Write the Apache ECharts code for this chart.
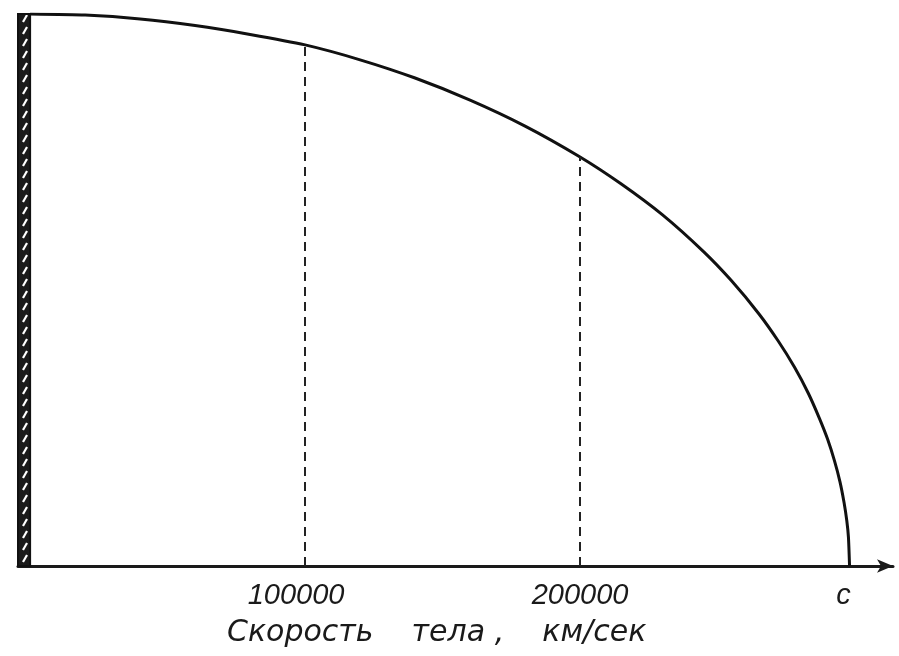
<!DOCTYPE html>
<html>
<head>
<meta charset="utf-8">
<script src="https://cdn.jsdelivr.net/npm/echarts@6/dist/echarts.min.js"></script>
<style>
html,body{margin:0;padding:0;background:#fff;}
#chart{width:899px;height:656px;}
</style>
</head>
<body>
<div id="chart"></div>
<script>
// Velocity of the body, km/s
const velocity = [0, 20000, 40000, 60000, 80000, 100000, 120000, 140000, 160000, 180000, 200000, 215000, 230000, 245000, 255000, 265000, 272000, 278000, 283000, 287000, 290000, 292500, 294500, 296000, 297000, 297600, 298000];
// Relative length of the body (1 = rest length)
const lengthRatio = [1.0, 0.998, 0.991, 0.979, 0.963, 0.944, 0.917, 0.884, 0.844, 0.797, 0.741, 0.692, 0.636, 0.569, 0.517, 0.457, 0.408, 0.360, 0.313, 0.268, 0.230, 0.191, 0.153, 0.115, 0.082, 0.052, 0];
// Dashed reference velocities
const dashedAt = [100000, 200000];
// Tick positions and labels on the velocity axis
const tickValues = [100000, 200000, 298000];
const tickLabels = ['100000', '200000', 'c'];
// Rest-length bar at the left
const restBar = [-4400, 0];

const chart = echarts.init(document.getElementById('chart'), null, {renderer: 'canvas'});

const pc = document.createElement('canvas');
pc.width = 10; pc.height = 12;
const g = pc.getContext('2d');
g.fillStyle = '#1a1a1a';
g.fillRect(0, 0, 10, 12);
g.strokeStyle = '#ffffff';
g.lineWidth = 2.2;
g.beginPath();
g.moveTo(3, 10); g.lineTo(7, 3);
g.stroke();

const lineData = velocity.map((v, i) => [v, lengthRatio[i]]);
const dashLines = dashedAt.map(v => {
  const i = velocity.indexOf(v);
  return [{coord: [v, 0]}, {coord: [v, lengthRatio[i]]}];
});

chart.setOption({
  animation: false,
  backgroundColor: '#ffffff',
  title: {
    text: 'Скорость    тела ,    км/сек',
    left: 222,
    top: 613,
    textStyle: {
      fontFamily: 'DejaVu Sans',
      fontStyle: 'italic',
      fontWeight: 'normal',
      fontSize: 30,
      color: '#1a1a1a'
    }
  },
  grid: {left: 18, top: 14, width: 875, height: 552},
  xAxis: {
    type: 'value',
    min: -4400,
    max: 313800,
    axisLine: {
      show: true,
      symbol: ['none', 'arrow'],
      symbolSize: [10, 16],
      lineStyle: {color: '#1a1a1a', width: 3}
    },
    axisTick: {show: false},
    splitLine: {show: false},
    axisLabel: {
      customValues: tickValues,
      formatter: v => {
        const i = tickValues.indexOf(v);
        return i === 0 ? '{a|' + tickLabels[i] + '}' : (i === 2 ? '{c|' + tickLabels[i] + '}' : tickLabels[i]);
      },
      rich: {
        a: {fontFamily: 'Liberation Sans', fontStyle: 'italic', fontSize: 29, color: '#1a1a1a', padding: [0, 18, 0, 0]},
        c: {fontFamily: 'Liberation Sans', fontStyle: 'italic', fontSize: 29, color: '#1a1a1a', padding: [0, 12, 0, 0]}
      },
      fontFamily: 'Liberation Sans',
      fontStyle: 'italic',
      fontSize: 29,
      color: '#1a1a1a',
      margin: 15
    }
  },
  yAxis: {
    type: 'value',
    min: 0,
    max: 1,
    show: false,
    splitLine: {show: false}
  },
  series: [{
    type: 'line',
    data: lineData,
    smooth: 0.2,
    symbol: 'none',
    lineStyle: {color: '#111', width: 3},
    markLine: {
      silent: true,
      symbol: ['none', 'none'],
      label: {show: false},
      lineStyle: {color: '#222', width: 2, type: [9, 6]},
      data: dashLines
    },
    markArea: {
      silent: true,
      label: {show: false},
      itemStyle: {
        color: {image: pc, repeat: 'repeat'},
        borderColor: '#111',
        borderWidth: 2
      },
      data: [[{xAxis: restBar[0], yAxis: 0}, {xAxis: restBar[1], yAxis: 1.004}]]
    }
  }]
});
</script>
</body>
</html>
